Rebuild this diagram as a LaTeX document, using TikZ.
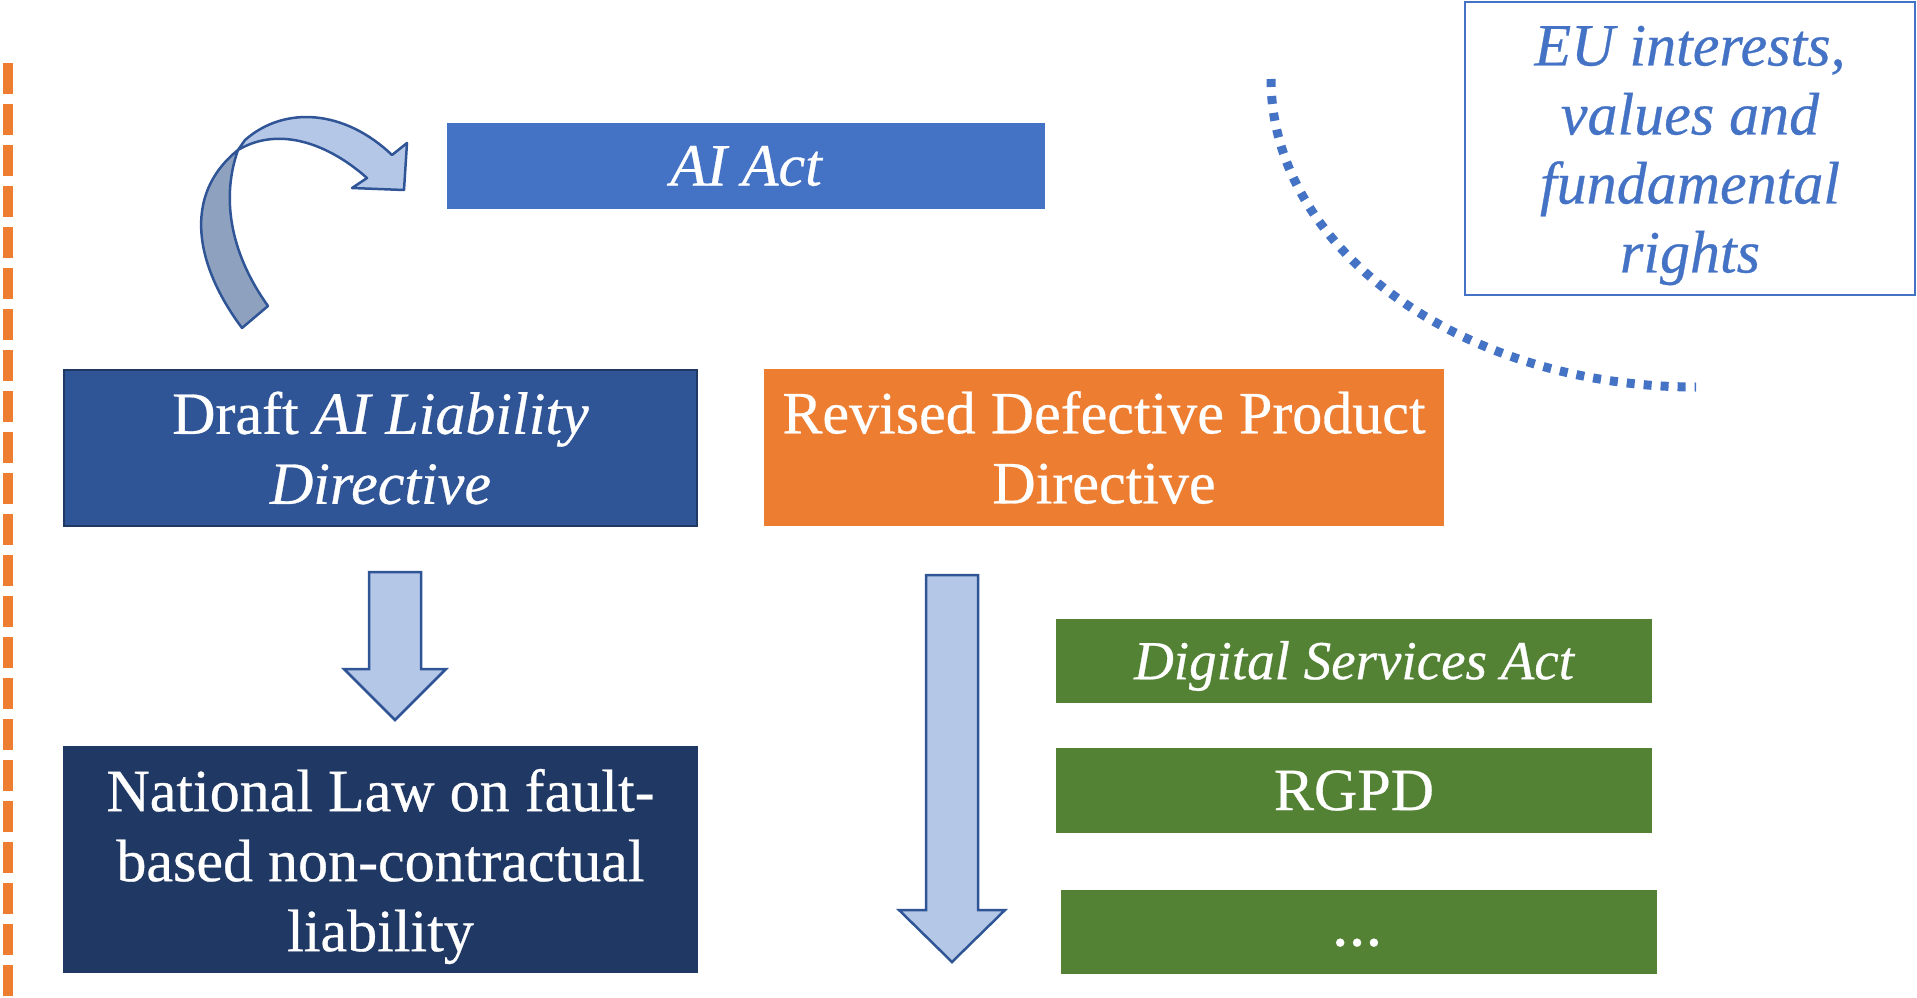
\documentclass[tikz,border=0pt]{standalone}
\usepackage{fontspec}
\setmainfont{Liberation Serif}[FakeBold=0.5, ItalicFeatures={FakeBold=0.5}]
\definecolor{actblue}{HTML}{4472C4}
\definecolor{draftblue}{HTML}{2F5597}
\definecolor{navy}{HTML}{203864}
\definecolor{navyline}{HTML}{1F3864}
\definecolor{prodorange}{HTML}{ED7D31}
\definecolor{lawgreen}{HTML}{548235}
\definecolor{arrowfill}{HTML}{B4C7E7}
\definecolor{arrowback}{HTML}{8EA1BE}
\definecolor{arrowline}{HTML}{2F5597}
\begin{document}
\begin{tikzpicture}[x=1pt,y=-1pt]
\tikzset{
  box/.style={rectangle, inner sep=0pt},
  boxtext/.style={inner sep=0pt, align=center, text=white,
    font=\fontsize{60}{70}\selectfont},
  blockarrow/.style={draw=arrowline, line width=2.5pt, fill=arrowfill, line join=miter},
}
\useasboundingbox (0,0) rectangle (1917,998);

% dashed boundary on the left
\coordinate (edgetop) at (8,63);
\coordinate (edgebot) at (8,998);
\draw[prodorange, line width=10pt, dash pattern=on 31pt off 10pt] (edgetop) -- (edgebot);

% legislative boxes
\node[box, fill=actblue, minimum width=598pt, minimum height=86pt] (act) at (746,166) {};
\node[boxtext] (actlabel) at (act.center) {\itshape AI Act};

\node[box, fill=draftblue, draw=navyline, line width=1.5pt, minimum width=633pt, minimum height=156pt] (draft) at (380.5,448) {};
\node[boxtext] (draftlabel) at (draft.center) {Draft \textit{AI Liability}\\\textit{Directive}};

\node[box, fill=prodorange, minimum width=680pt, minimum height=157pt] (pld) at (1104,447.5) {};
\node[boxtext] (pldlabel) at (pld.center) {Revised Defective Product\\Directive};

\node[box, fill=navy, draw=navyline, line width=1.5pt, minimum width=633pt, minimum height=225pt] (national) at (380.5,859.5) {};
\node[boxtext, yshift=-7pt] (nationallabel) at (national.center)
  {National Law on fault-\\based non-contractual\\liability};

\node[box, fill=lawgreen, minimum width=596pt, minimum height=84pt] (dsa) at (1354,661) {};
\node[boxtext, yshift=-5pt, font=\fontsize{55}{66}\selectfont\itshape] (dsalabel) at (dsa.center) {Digital Services Act};

\node[box, fill=lawgreen, minimum width=596pt, minimum height=85pt] (rgpd) at (1354,790.5) {};
\node[boxtext] (rgpdlabel) at (rgpd.center) {RGPD};

\node[box, fill=lawgreen, minimum width=596pt, minimum height=84pt] (more) at (1359,932) {};
\node[boxtext, anchor=base, font=\fontsize{50}{60}\selectfont\bfseries] (morelabel) at (1357,946) {…};

% values box
\node[box, draw=actblue, line width=2pt, minimum width=450pt, minimum height=293pt] (eu) at (1690,148.5) {};
\node[boxtext, text=actblue, yshift=-7pt, font=\fontsize{60}{69}\selectfont\itshape] (eulabel) at (eu.center)
  {EU interests,\\values and\\fundamental\\rights};

% dotted arc around the values box
\draw[actblue, line width=9pt, dash pattern=on 8pt off 9pt]
  (1271,79) arc[start angle=180, end angle=90, x radius=425, y radius=308];

% curved arrow from the draft directive to the AI Act
\fill[arrowback, draw=arrowline, line width=2.5pt, line join=round]
  (242,328) .. controls (195,265) and (182,195) .. (238,150)
  .. controls (222,195) and (228,250) .. (268,306) -- cycle;
\path[blockarrow, line join=round]
  (238,150) -- (245,140) .. controls (285,105) and (345,110) .. (392,155)
  -- (407,143) -- (404,190) -- (352,188) -- (367,178)
  .. controls (330,145) and (280,125) .. (238,150) -- cycle;

% straight block arrows
\path[blockarrow]
  (369,572) -- (421,572) -- (421,669) -- (446,669) -- (395,720) -- (344,669) -- (369,669) -- cycle;
\path[blockarrow]
  (926,575) -- (978,575) -- (978,910) -- (1005,910) -- (952,962) -- (899,910) -- (926,910) -- cycle;
\end{tikzpicture}
\end{document}
